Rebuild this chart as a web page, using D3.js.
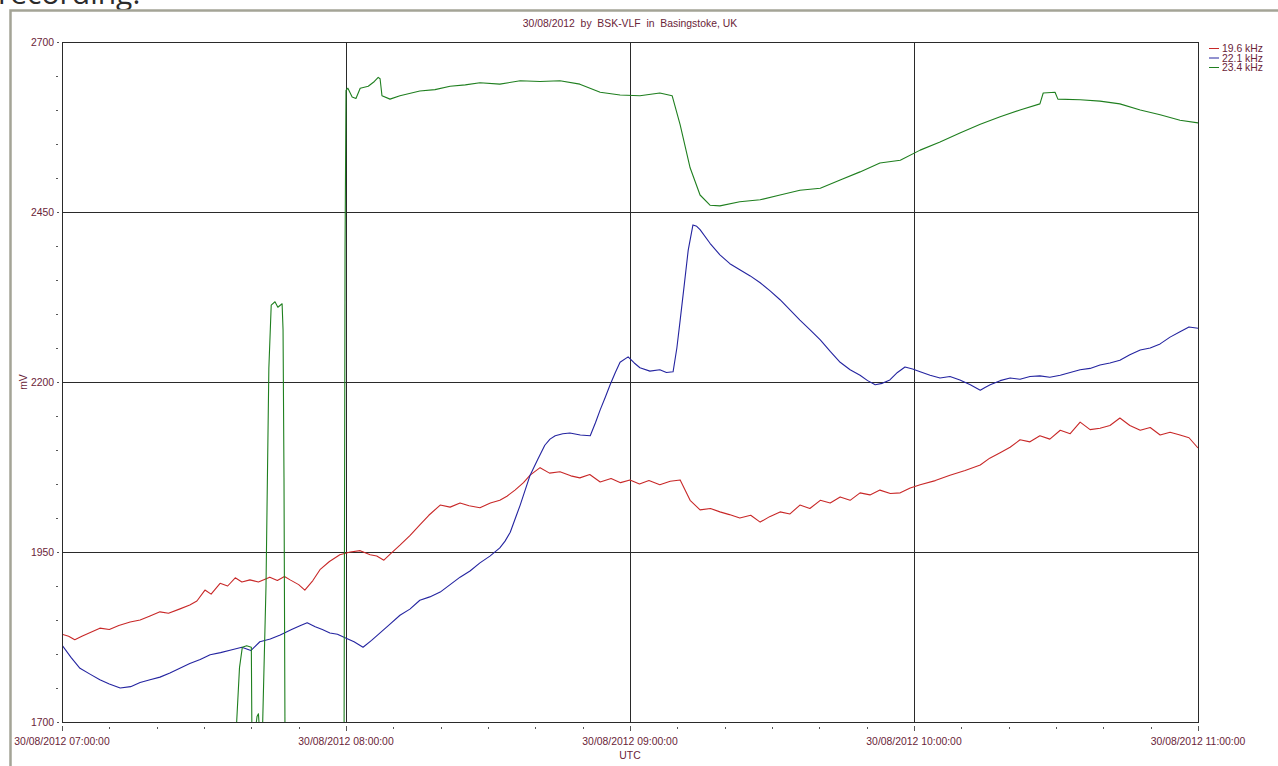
<!DOCTYPE html>
<html>
<head>
<meta charset="utf-8">
<script src="https://cdn.jsdelivr.net/npm/d3@7"></script>
<style>
  body { margin: 0; background: #fff; overflow: hidden; }
  svg { display: block; }
  .lbl { font-family: "Liberation Sans", Arial, sans-serif; font-size: 10.4px; fill: #6a2438; }
</style>
</head>
<body>
<svg id="chart" width="1278" height="766"></svg>
<script>
// ---- data: [minutes after 07:00 UTC, mV] ----
const seriesNames = ["19.6 kHz", "22.1 kHz", "23.4 kHz"];
const seriesColors = ["#c82828", "#2424a0", "#1f7f1f"];

const red196 = [
  [0, 1829], [1.4, 1826], [2.7, 1821], [4.2, 1826], [5.5, 1830], [8.0, 1838], [10, 1836], [12, 1842],
  [14.4, 1847], [16.5, 1850], [18.6, 1856], [20.7, 1862], [22.5, 1860], [24.8, 1866], [27.0, 1872],
  [28.5, 1878], [30.2, 1894], [31.5, 1888], [33.4, 1904], [35, 1900], [36.6, 1912], [38, 1906],
  [39.7, 1909], [41.5, 1906], [43.9, 1913], [45.5, 1908], [47, 1914], [48.2, 1909], [50, 1902],
  [51.3, 1894], [53, 1908], [54.5, 1924], [56.5, 1936], [58.7, 1946], [60.9, 1950], [63, 1952],
  [65.1, 1946], [66.5, 1944], [68.0, 1938], [69.5, 1948], [71.4, 1960], [73.5, 1974], [75.6, 1990],
  [77.5, 2004], [79.9, 2019], [82, 2016], [84.1, 2022], [86, 2018], [88.3, 2015], [90.5, 2022],
  [92.5, 2026], [94, 2032], [95.7, 2041], [97.5, 2052], [98.9, 2063], [101.0, 2074], [103, 2066],
  [105.2, 2068], [107.5, 2062], [109.4, 2059], [111.5, 2064], [113.7, 2053], [116, 2058], [118, 2052],
  [120, 2056], [122, 2050], [124, 2055], [126.3, 2049], [128.5, 2054], [130.6, 2056], [132.7, 2026],
  [134.8, 2012], [137, 2014], [139.0, 2009], [141, 2005], [143.2, 2000], [145.5, 2004], [147.5, 1994],
  [149.5, 2002], [151.7, 2009], [153.8, 2006], [155.9, 2019], [158, 2014], [160.2, 2026], [162.3, 2022],
  [164.4, 2031], [166.5, 2026], [168.6, 2037], [170.7, 2034], [172.8, 2041], [175, 2036], [177.1, 2037],
  [179.2, 2044], [181.3, 2049], [184.5, 2055], [187.6, 2063], [190.8, 2070], [194.0, 2078], [196, 2088],
  [198.2, 2096], [200.3, 2104], [202.4, 2115], [204.5, 2112], [206.6, 2121], [208.7, 2116], [210.9, 2129],
  [213, 2124], [215.1, 2141], [217.2, 2130], [219.3, 2132], [221.4, 2136], [223.5, 2147], [225.6, 2136],
  [227.8, 2129], [229.9, 2133], [232.0, 2122], [234.1, 2126], [236.2, 2122], [238.1, 2118], [240, 2103]
];

const blue221 = [
  [0, 1813], [1.9, 1795], [3.8, 1779], [6, 1770], [8.0, 1762], [10, 1756], [12.3, 1750], [14.5, 1752],
  [16.5, 1758], [18.6, 1762], [20.7, 1766], [22.8, 1772], [24.9, 1779], [27, 1786], [29.2, 1792],
  [31.3, 1799], [33.5, 1802], [35.7, 1806], [38.0, 1810], [39.9, 1805], [41.8, 1818], [44, 1822],
  [46.1, 1828], [48.5, 1836], [50.4, 1842], [51.8, 1846], [53.5, 1840], [55, 1836], [56.6, 1831],
  [58.2, 1829], [59.8, 1824], [61.7, 1818], [63.6, 1810], [65.4, 1820], [67.2, 1831], [69.3, 1844],
  [71.4, 1857], [73.5, 1866], [75.6, 1879], [77.7, 1884], [79.9, 1891], [82, 1902], [84.1, 1913],
  [86.2, 1922], [88.3, 1934], [90.4, 1944], [92.5, 1956], [93.6, 1966], [94.7, 1979], [95.8, 2000],
  [96.8, 2019], [97.9, 2042], [98.9, 2063], [100.5, 2086], [102.0, 2107], [103.1, 2116], [104.2, 2121],
  [105.8, 2124], [107.3, 2125], [109.5, 2122], [111.6, 2121], [112.7, 2140], [113.7, 2159], [114.8, 2178],
  [115.8, 2196], [116.9, 2214], [117.9, 2229], [119.6, 2237], [120.9, 2228], [122.1, 2221], [124.2, 2216],
  [126.3, 2218], [127.7, 2214], [129.1, 2215], [129.9, 2250], [130.6, 2291], [131.5, 2345], [132.3, 2394],
  [133.3, 2431], [134.1, 2429], [134.8, 2424], [136.9, 2404], [139.0, 2387], [141.1, 2374], [143.2, 2365],
  [145.4, 2356], [147.5, 2346], [149.6, 2334], [151.7, 2321], [153.8, 2306], [155.9, 2291], [158, 2277],
  [160.2, 2262], [162.3, 2245], [164.4, 2229], [166.5, 2218], [168.6, 2210], [170.2, 2202], [171.8, 2196],
  [173.3, 2198], [174.9, 2203], [176.5, 2214], [178.1, 2222], [179.7, 2219], [181.3, 2215], [183.4, 2210],
  [185.5, 2206], [187.6, 2208], [189.7, 2203], [191.9, 2196], [194.0, 2188], [195, 2192], [196.1, 2196],
  [198.2, 2202], [200.3, 2206], [202.4, 2204], [204.5, 2208], [206.6, 2209], [208.7, 2207], [210.9, 2210],
  [213, 2214], [215.1, 2218], [217.2, 2220], [219.3, 2225], [221.4, 2228], [223.5, 2232], [225.6, 2240],
  [227.8, 2247], [229.9, 2250], [232.0, 2256], [234.1, 2266], [236.2, 2274], [238.1, 2281], [240, 2279]
];

// values under 1700 fall off the bottom of the chart
const green234 = [
  [0, 1600], [36.0, 1600], [36.9, 1700], [37.5, 1780], [38.1, 1810], [39.0, 1812], [40.0, 1810],
  [40.2, 1600], [40.9, 1690], [41.2, 1708], [41.5, 1712], [41.7, 1690], [42.2, 1600], [42.4, 1700],
  [43.1, 1900], [43.7, 2220], [44.2, 2313], [45.0, 2318], [45.6, 2310], [46.5, 2315], [46.7, 2277],
  [46.9, 2060], [47.1, 1700], [47.3, 1600], [59.3, 1600], [59.6, 1700], [59.8, 2394], [60.0, 2629],
  [60.4, 2632], [61.3, 2619], [62.1, 2617], [63.0, 2632], [64.7, 2635], [66.0, 2642], [66.8, 2648],
  [67.2, 2646], [67.6, 2621], [69.3, 2616], [71.4, 2621], [75.6, 2628], [78.8, 2630], [82.0, 2635],
  [85.2, 2637], [88.3, 2640], [92.5, 2638], [96.8, 2643], [101.0, 2642], [105.2, 2643], [109.4, 2638],
  [113.7, 2626], [117.9, 2622], [122.1, 2621], [126.3, 2625], [128.9, 2621], [130.6, 2578], [132.7, 2515],
  [134.8, 2475], [136.9, 2460], [139.0, 2459], [143.2, 2465], [147.5, 2468], [151.7, 2475], [155.9, 2482],
  [160.2, 2485], [164.4, 2497], [168.6, 2509], [172.8, 2522], [177.1, 2526], [181.3, 2541], [185.5, 2553],
  [189.7, 2566], [194.0, 2579], [198.2, 2590], [202.4, 2600], [206.6, 2609], [207.3, 2625], [209.8, 2626],
  [210.4, 2616], [215.1, 2615], [219.3, 2613], [223.5, 2609], [227.8, 2600], [232.0, 2593], [236.2, 2585],
  [240, 2581]
];

const yMajorTicks = [1700, 1950, 2200, 2450, 2700];
const yMinorStep = 50;
const xMinorStepMin = 10;
const titleText = "30/08/2012  by  BSK-VLF  in  Basingstoke, UK";
const yLabel = "mV";
const xLabel = "UTC";

// ---- layout ----
const svg = d3.select("#chart");
const plot = {left: 62, top: 42, right: 1198, bottom: 722};
const start = Date.UTC(2012, 7, 30, 7, 0, 0);
const toDate = m => new Date(start + m * 60000);

const x = d3.scaleUtc()
    .domain([toDate(0), toDate(240)])
    .range([plot.left, plot.right]);
const y = d3.scaleLinear()
    .domain([1700, 2700])
    .range([plot.bottom, plot.top]);

// outer frame + the cut-off caption above it
svg.append("text")
    .attr("x", -2).attr("y", 4)
    .attr("font-family", "'Open Sans', sans-serif")
    .attr("font-size", 30)
    .attr("fill", "#2b2b2b")
    .text("recording.");
svg.append("path")
    .attr("d", "M10.5,766 V10.5 H1278")
    .attr("fill", "none")
    .attr("stroke", "#a4a496")
    .attr("stroke-width", 2.5);

// title
svg.append("text").attr("class", "lbl")
    .attr("x", (plot.left + plot.right) / 2).attr("y", 27)
    .attr("text-anchor", "middle")
    .attr("xml:space", "preserve")
    .text(titleText);

// grid
const grid = svg.append("g").attr("stroke", "#2a2a2a").attr("stroke-width", 1);
yMajorTicks.slice(1, -1).forEach(v => {
    grid.append("line")
        .attr("x1", plot.left).attr("x2", plot.right)
        .attr("y1", Math.round(y(v)) + 0.5).attr("y2", Math.round(y(v)) + 0.5);
});
const hourTicks = x.ticks(d3.utcHour.every(1));
hourTicks.slice(1, -1).forEach(t => {
    grid.append("line")
        .attr("y1", plot.top).attr("y2", plot.bottom)
        .attr("x1", Math.round(x(t)) + 0.5).attr("x2", Math.round(x(t)) + 0.5);
});

// series
svg.append("clipPath").attr("id", "clip")
    .append("rect")
    .attr("x", plot.left).attr("y", plot.top)
    .attr("width", plot.right - plot.left).attr("height", plot.bottom - plot.top);

const line = d3.line()
    .x(d => x(toDate(d[0])))
    .y(d => y(d[1]));

const series = [red196, blue221, green234];
svg.append("g").attr("clip-path", "url(#clip)")
    .selectAll("path")
    .data(series)
    .join("path")
    .attr("d", line)
    .attr("fill", "none")
    .attr("stroke", (_, i) => seriesColors[i])
    .attr("stroke-width", 1.1)
    .attr("stroke-linejoin", "round");

// plot border
svg.append("rect")
    .attr("x", plot.left + 0.5).attr("y", plot.top + 0.5)
    .attr("width", plot.right - plot.left).attr("height", plot.bottom - plot.top)
    .attr("fill", "none")
    .attr("stroke", "#2a2a2a");

// y axis ticks + labels
const yMinor = d3.range(1700, 2700 + 1, yMinorStep).filter(v => !yMajorTicks.includes(v));
svg.append("g").selectAll("line")
    .data(yMinor)
    .join("line")
    .attr("x1", 56).attr("x2", 58)
    .attr("y1", d => Math.round(y(d)) + 0.5).attr("y2", d => Math.round(y(d)) + 0.5)
    .attr("stroke", "#555");
svg.append("g").selectAll("line")
    .data(yMajorTicks)
    .join("line")
    .attr("x1", 57).attr("x2", 59)
    .attr("y1", d => Math.round(y(d)) + 0.5).attr("y2", d => Math.round(y(d)) + 0.5)
    .attr("stroke", "#555");
svg.append("g").selectAll("text")
    .data(yMajorTicks)
    .join("text")
    .attr("class", "lbl")
    .attr("x", 54)
    .attr("y", d => y(d) + 3.5)
    .attr("text-anchor", "end")
    .text(d => d);

svg.append("text").attr("class", "lbl")
    .attr("transform", `translate(27,${y(2200)}) rotate(-90)`)
    .attr("text-anchor", "middle")
    .text(yLabel);

// x axis ticks + labels
const xMinor = x.ticks(d3.utcMinute.every(xMinorStepMin));
svg.append("g").selectAll("line")
    .data(xMinor)
    .join("line")
    .attr("x1", d => Math.round(x(d)) + 0.5).attr("x2", d => Math.round(x(d)) + 0.5)
    .attr("y1", d => d.getUTCMinutes() === 0 ? 726 : 727)
    .attr("y2", d => d.getUTCMinutes() === 0 ? 731 : 729)
    .attr("stroke", "#555");

const fmt = d3.utcFormat("%d/%m/%Y %H:%M:%S");
svg.append("g").selectAll("text")
    .data(hourTicks)
    .join("text")
    .attr("class", "lbl")
    .attr("x", d => x(d))
    .attr("y", 745)
    .attr("text-anchor", "middle")
    .text(fmt);

svg.append("text").attr("class", "lbl")
    .attr("x", (plot.left + plot.right) / 2).attr("y", 759)
    .attr("text-anchor", "middle")
    .text(xLabel);

// legend
const legend = svg.append("g").attr("transform", "translate(1209,48)");
seriesNames.forEach((name, i) => {
    const g = legend.append("g").attr("transform", `translate(0,${i * 9.5})`);
    g.append("line")
        .attr("x1", 0).attr("x2", 10).attr("y1", 0.5).attr("y2", 0.5)
        .attr("stroke", seriesColors[i]);
    g.append("text")
        .attr("class", "lbl")
        .attr("x", 13).attr("y", 4)
        .attr("font-size", 9.5)
        .attr("fill", "#a03050")
        .text(name);
});
</script>
</body>
</html>
